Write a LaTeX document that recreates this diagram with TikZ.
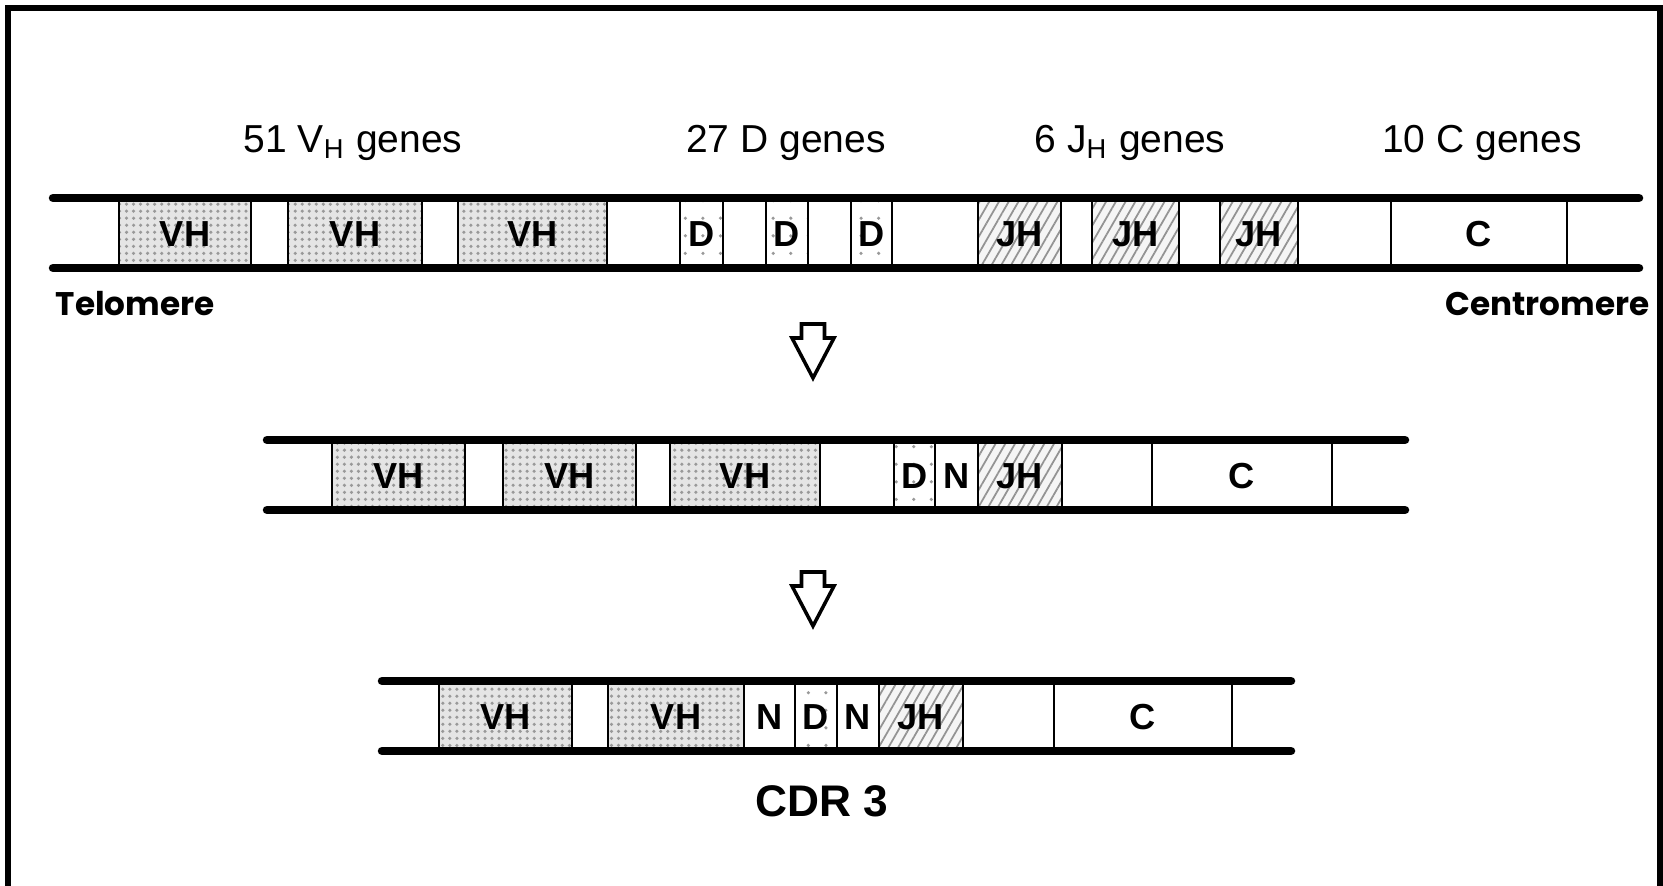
\documentclass[tikz,border=0pt]{standalone}
\usepackage{fontspec}
\setmainfont{Liberation Sans}
\newfontfamily\geofont{Poppins}
\usetikzlibrary{patterns.meta}

\tikzset{
  rail/.style={line width=0.85mm, line cap=round},
  gene/.style={draw, line width=0.7pt},
  vh/.style={gene, preaction={fill=gray!20}, pattern={Dots[distance=2pt, radius=0.5pt]}, pattern color=gray!80},
  dgene/.style={gene, preaction={fill=white}, pattern={Dots[distance=5pt, radius=0.5pt]}, pattern color=gray!80},
  jh/.style={gene, preaction={fill=gray!8}, pattern={Lines[angle=60, distance=2.4pt, line width=0.5pt]}, pattern color=gray!85},
  plain/.style={gene, fill=white},
  blabel/.style={font=\fontsize{10.3}{12}\selectfont\bfseries, inner sep=0pt},
  glabel/.style={font=\fontsize{11.1}{13}\selectfont, inner sep=0pt, anchor=base},
  endlabel/.style={font=\geofont\fontsize{9.3}{11}\selectfont\bfseries, inner sep=0pt, anchor=base},
  blockarrow/.style={draw, line width=1pt, fill=white, line join=miter}
}

\begin{document}
\begin{tikzpicture}[x=0.1mm, y=-0.1mm]

        \useasboundingbox (0,0) rectangle (1663,886);

        % Draw frame (open at the bottom)
        \draw[line width=0.65mm] (8,900) -- (8,8) -- (1660,8) -- (1660,900);

        % Gene counts
        \node[glabel] (nvh) at (353,153) {51 V\textsubscript{H} genes};
        \node[glabel] (nd)  at (786,153) {27 D genes};
        \node[glabel] (njh) at (1130,153) {6 J\textsubscript{H} genes};
        \node[glabel] (nc)  at (1482,153) {10 C genes};

        % Germline locus
        \foreach [count=\i] \a/\b/\s/\t in {119/251/vh/VH, 288/422/vh/VH, 458/607/vh/VH,
            680/723/dgene/D, 766/808/dgene/D, 851/892/dgene/D,
            978/1061/jh/JH, 1092/1179/jh/JH, 1220/1298/jh/JH, 1391/1567/plain/C}
          {\draw[style=\s] (\a,198) rectangle (\b,268);
           \node[blabel] (ga\i) at ({(\a+\b)/2},234) {\t};}
        \draw[rail] (53,198) -- (1639,198);
        \draw[rail] (53,268) -- (1639,268);

        \node[endlabel, anchor=base west] (telo) at (55,316) {Telomere};
        \node[endlabel, anchor=base east] (centro) at (1650,316) {Centromere};

        % Arrow 1
        \draw[blockarrow] (801.5,324) -- (824.5,324) -- (824.5,338) -- (834,338)
            -- (813,378) -- (792,338) -- (801.5,338) -- cycle;

        % D-J joined
        \foreach [count=\i] \a/\b/\s/\t in {332/465/vh/VH, 503/636/vh/VH, 670/820/vh/VH,
            894/935/dgene/D, 935/978/plain/N, 978/1062/jh/JH, 1152/1332/plain/C}
          {\draw[style=\s] (\a,440) rectangle (\b,510);
           \node[blabel] (gb\i) at ({(\a+\b)/2},476) {\t};}
        \draw[rail] (267,440) -- (1405,440);
        \draw[rail] (267,510) -- (1405,510);

        % Arrow 2
        \draw[blockarrow] (801.5,572) -- (824.5,572) -- (824.5,586) -- (834,586)
            -- (813,626) -- (792,586) -- (801.5,586) -- cycle;

        % V-D-J joined
        \foreach [count=\i] \a/\b/\s/\t in {439/572/vh/VH, 608/744/vh/VH, 744/795/plain/N,
            795/837/dgene/D, 837/879/plain/N, 879/963/jh/JH, 1054/1232/plain/C}
          {\draw[style=\s] (\a,681) rectangle (\b,751);
           \node[blabel] (gc\i) at ({(\a+\b)/2},717) {\t};}
        \draw[rail] (382,681) -- (1291,681);
        \draw[rail] (382,751) -- (1291,751);

        \node[font=\fontsize{12.6}{14}\selectfont\bfseries, inner sep=0pt, anchor=base] (cdr) at (822,817) {CDR 3};

    \end{tikzpicture}
\end{document}
